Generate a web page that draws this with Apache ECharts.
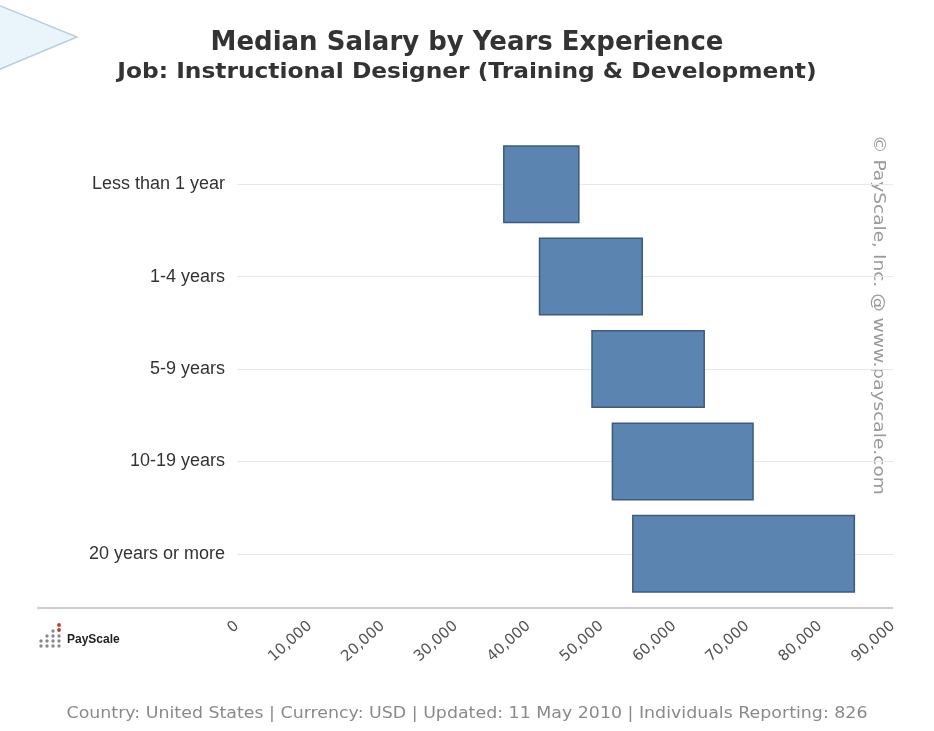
<!DOCTYPE html>
<html>
<head>
<meta charset="utf-8">
<script src="https://cdn.jsdelivr.net/npm/echarts@6/dist/echarts.min.js"></script>
<style>
html,body{margin:0;padding:0;background:#fff;}
#chart{width:934px;height:731px;}
</style>
</head>
<body>
<div id="chart"></div>
<script>
const categories = ['Less than 1 year', '1-4 years', '5-9 years', '10-19 years', '20 years or more'];
const salaryLow = [36500, 41400, 48600, 51400, 54200];
const salaryHigh = [47000, 55700, 64200, 70900, 84800];
const xTickValues = [0, 10000, 20000, 30000, 40000, 50000, 60000, 70000, 80000, 90000];

const titleText = 'Median Salary by Years Experience';
const subtitleText = 'Job: Instructional Designer (Training & Development)';
const footerText = 'Country: United States | Currency: USD | Updated: 11 May 2010 | Individuals Reporting: 826';
const watermarkText = '\u00A9 PayScale, Inc. @ www.payscale.com';

const rangeValues = salaryHigh.map((h, i) => h - salaryLow[i]);

const chart = echarts.init(document.getElementById('chart'), null, {renderer: 'canvas'});

// logo dots
const logoDots = [];
const dotCols = [41, 47, 53, 59];
const dotRows = [636, 641, 646];
dotCols.forEach((cx, ci) => {
  dotRows.forEach((cy, ri) => {
    if (ci === 0 && ri === 0) return;
    logoDots.push({type: 'circle', shape: {cx: cx, cy: cy, r: 1.7}, style: {fill: '#8a8a8a'}, silent: true});
  });
});
logoDots.push({type: 'circle', shape: {cx: 53, cy: 631, r: 1.7}, style: {fill: '#8a8a8a'}, silent: true});
logoDots.push({type: 'circle', shape: {cx: 59, cy: 625, r: 1.9}, style: {fill: '#c0392b'}, silent: true});
logoDots.push({type: 'circle', shape: {cx: 59, cy: 630, r: 1.9}, style: {fill: '#c0392b'}, silent: true});

const option = {
  backgroundColor: '#ffffff',
  animation: false,
  grid: {left: 237, right: 41, top: 138, bottom: 131, containLabel: false},
  xAxis: {
    type: 'value',
    min: 0, max: 90000, interval: 10000,
    axisLine: {show: false},
    axisTick: {show: false},
    splitLine: {show: false},
    axisLabel: {
      rotate: 42, margin: 24,
      fontFamily: 'DejaVu Sans', fontSize: 15, color: '#555555',
      customValues: xTickValues,
      formatter: v => v.toLocaleString('en-US')
    }
  },
  yAxis: {
    type: 'category',
    data: categories,
    inverse: true,
    axisLine: {show: false},
    axisTick: {show: false},
    splitLine: {show: true, alignWithLabel: true, lineStyle: {color: '#e8e8e8', width: 1}},
    axisLabel: {margin: 12, fontFamily: 'Liberation Sans', fontSize: 18, color: '#333333'}
  },
  series: [
    {
      name: 'base', type: 'bar', stack: 'range', data: salaryLow,
      barWidth: 78,
      itemStyle: {color: 'rgba(0,0,0,0)'},
      silent: true
    },
    {
      name: 'range', type: 'bar', stack: 'range', data: rangeValues,
      barWidth: 78,
      itemStyle: {color: '#5b84b0', borderColor: '#3e5a7c', borderWidth: 1.5}
    }
  ],
  graphic: [
    {type: 'polygon', shape: {points: [[-2, 5], [77, 37], [-2, 70]]},
     style: {fill: '#eaf4fb', stroke: '#b9cfe0', lineWidth: 1.5}, silent: true},
    {type: 'line', shape: {x1: 37, y1: 608, x2: 893, y2: 608},
     style: {stroke: '#cccccc', lineWidth: 2}, silent: true},
    {type: 'text', x: 467, y: 43,
     style: {text: titleText, fontFamily: 'DejaVu Sans', fontWeight: 'bold', fontSize: 26, fill: '#333333', align: 'center', verticalAlign: 'middle'}, silent: true},
    {type: 'text', x: 467, y: 73, scaleX: 1.11,
     style: {text: subtitleText, fontFamily: 'DejaVu Sans', fontWeight: 'bold', fontSize: 21, fill: '#333333', align: 'center', verticalAlign: 'middle'}, silent: true},
    {type: 'text', x: 878, y: 135,
     rotation: -Math.PI / 2, scaleX: 1.16,
     style: {text: watermarkText, fontFamily: 'DejaVu Sans', fontSize: 16, fill: '#9a9a9a', align: 'left', verticalAlign: 'middle'}, silent: true},
    {type: 'text', x: 67, y: 634,
     style: {text: 'PayScale', fontFamily: 'Liberation Sans', fontWeight: 'bold', fontSize: 12, fill: '#222222'}, silent: true},
    {type: 'text', x: 467, y: 714, scaleX: 1.16,
     style: {text: footerText, fontFamily: 'DejaVu Sans', fontSize: 15, fill: '#8a8a8a', align: 'center', verticalAlign: 'middle'}, silent: true}
  ].concat(logoDots)
};
chart.setOption(option);
</script>
</body>
</html>
